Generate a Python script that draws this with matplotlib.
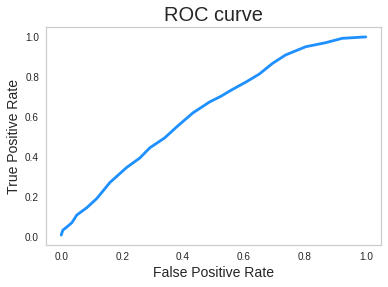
import matplotlib
matplotlib.use("Agg")
import matplotlib.pyplot as plt

fpr = [0.0, 0.005, 0.018, 0.035, 0.051, 0.084, 0.117, 0.16, 0.215, 0.258, 0.291, 0.34, 0.378,
       0.432, 0.487, 0.525, 0.558, 0.607, 0.65, 0.694, 0.737, 0.803, 0.868, 0.923, 1.0]
tpr = [0.01, 0.034, 0.05, 0.072, 0.11, 0.147, 0.193, 0.273, 0.348, 0.395, 0.446, 0.496, 0.549,
       0.62, 0.675, 0.704, 0.734, 0.775, 0.814, 0.868, 0.91, 0.951, 0.971, 0.993, 1.0]
ticks = [0.0, 0.2, 0.4, 0.6, 0.8, 1.0]

plt.rcParams['font.family'] = ['Liberation Sans', 'DejaVu Sans']
fig = plt.figure(figsize=(388/72, 287/72), dpi=72)
ax = fig.add_axes([46/388, 1-245/287, (381-46)/388, (245-27)/287])
ax.plot(fpr, tpr, color='dodgerblue', lw=2.8, solid_capstyle='round')
ax.set_xticks(ticks)
ax.set_yticks(ticks)
ax.set_xticklabels([f"{t:.1f}" for t in ticks])
ax.set_yticklabels([f"{t:.1f}" for t in ticks])
ax.tick_params(length=0, labelsize=10, colors='#262626', pad=7)
for s in ax.spines.values():
    s.set_color('#cccccc')
    s.set_linewidth(1.2)
ax.set_title('ROC curve', fontsize=20, color='#262626')
ax.set_xlabel('False Positive Rate', fontsize=14, color='#262626')
ax.set_ylabel('True Positive Rate', fontsize=14, color='#262626')
fig.savefig('out.png', dpi=72)
